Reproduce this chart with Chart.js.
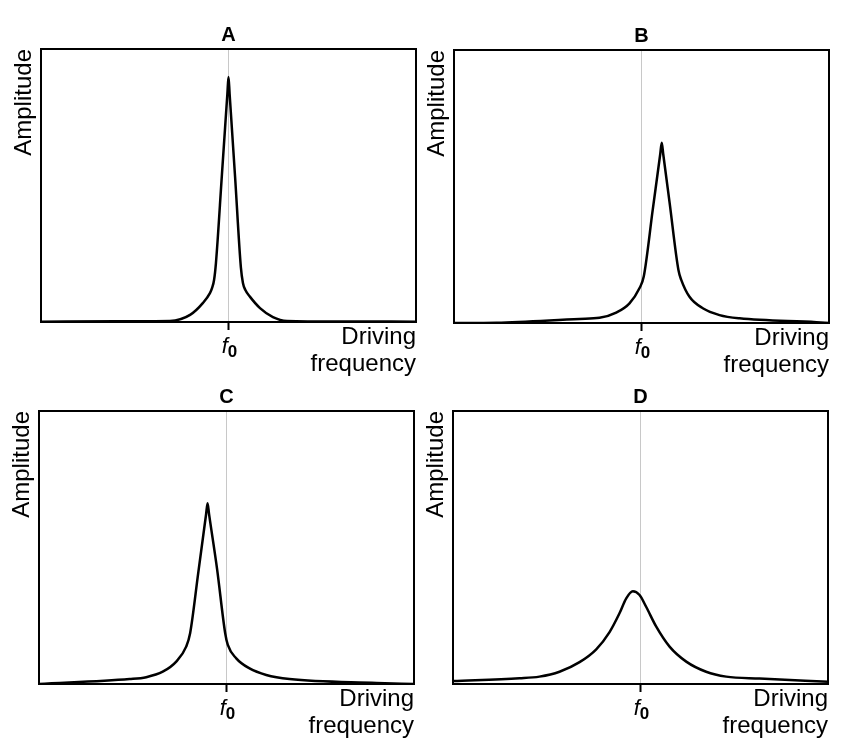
<!DOCTYPE html>
<html>
<head>
<meta charset="utf-8">
<title>Resonance curves</title>
<script src="https://cdn.jsdelivr.net/npm/chart.js@4.4.1/dist/chart.umd.min.js"></script>
<style>
  html, body { margin: 0; padding: 0; background: #fff; }
  body { width: 854px; height: 754px; position: relative; overflow: hidden; }
  canvas { position: absolute; }
</style>
</head>
<body>
<canvas id="chartA" width="427" height="378" style="left:0px;top:0px"></canvas>
<canvas id="chartB" width="427" height="378" style="left:413px;top:1px"></canvas>
<canvas id="chartC" width="427" height="378" style="left:-2px;top:362px"></canvas>
<canvas id="chartD" width="427" height="378" style="left:412px;top:362px"></canvas>
<script>
// driving frequency relative to f0 (f0 = 0), amplitude as fraction of the axis height
const F0 = 0;
const xTicks = [F0];
const panelTitles = ['A', 'B', 'C', 'D'];

const freqA = [-1, -0.6, -0.312, -0.205, -0.136, -0.099, -0.087, -0.077, -0.067, -0.035, -0.006, 0, 0.006, 0.035, 0.066, 0.077, 0.09, 0.115, 0.168, 0.237, 0.312, 0.6, 1];
const ampA  = [0.001, 0.003, 0.004, 0.026, 0.07, 0.106, 0.126, 0.154, 0.216, 0.541, 0.836, 0.897, 0.835, 0.533, 0.2, 0.143, 0.117, 0.092, 0.051, 0.018, 0.004, 0.002, 0.001];

const freqB = [-1, -0.773, -0.331, -0.224, -0.135, -0.064, -0.011, 0.012, 0.06, 0.1, 0.108, 0.116, 0.15, 0.197, 0.212, 0.256, 0.327, 0.416, 0.523, 0.933, 1];
const ampB  = [0, 0.001, 0.015, 0.019, 0.038, 0.072, 0.127, 0.17, 0.415, 0.619, 0.66, 0.618, 0.44, 0.194, 0.158, 0.096, 0.054, 0.029, 0.017, 0.003, 0];

const freqC = [-1, -0.517, -0.428, -0.34, -0.268, -0.215, -0.194, -0.15, -0.109, -0.101, -0.093, -0.05, -0.007, 0.007, 0.052, 0.123, 0.212, 0.336, 0.8, 1];
const ampC  = [0, 0.018, 0.025, 0.045, 0.082, 0.137, 0.186, 0.411, 0.621, 0.662, 0.622, 0.42, 0.186, 0.143, 0.094, 0.057, 0.033, 0.018, 0.004, 0];

const freqD = [-1, -0.645, -0.539, -0.432, -0.325, -0.236, -0.165, -0.112, -0.076, -0.041, -0.005, 0.03, 0.084, 0.155, 0.244, 0.35, 0.457, 0.635, 1];
const ampD  = [0.011, 0.021, 0.027, 0.045, 0.08, 0.127, 0.19, 0.259, 0.314, 0.34, 0.326, 0.283, 0.21, 0.137, 0.082, 0.045, 0.027, 0.02, 0.008];

const FONT = '"Liberation Sans", Arial, Helvetica, sans-serif';

// frame around the plot area + the f0 label (italic f, bold subscript 0)
const panelDecor = {
    id: 'panelDecor',
    afterDraw(chart) {
        const { ctx, chartArea: a, scales: { x } } = chart;
        ctx.save();
        ctx.strokeStyle = '#000';
        ctx.lineWidth = 2;
        ctx.strokeRect(a.left, a.top, a.right - a.left, a.bottom - a.top);

        const px = x.getPixelForValue(F0);
        const fFont = 'italic 22px ' + FONT;
        const subFont = 'bold 17px ' + FONT;
        ctx.fillStyle = '#000';
        ctx.textBaseline = 'alphabetic';
        ctx.textAlign = 'left';
        ctx.font = fFont;
        const fw = ctx.measureText('f').width;
        ctx.font = subFont;
        const zw = ctx.measureText('0').width;
        const start = px - (fw + zw) / 2 + 1;
        ctx.font = fFont;
        ctx.fillText('f', start, a.bottom + 31);
        ctx.font = subFont;
        ctx.fillText('0', start + fw, a.bottom + 35);
        ctx.restore();
    }
};

function makePanel(id, title, xs, ys) {
    const points = xs.map((v, i) => ({ x: v, y: ys[i] }));
    new Chart(document.getElementById(id), {
        type: 'line',
        data: {
            datasets: [{
                data: points,
                borderColor: '#000',
                borderWidth: 2.5,
                borderJoinStyle: 'round',
                borderCapStyle: 'round',
                pointRadius: 0,
                fill: false,
                cubicInterpolationMode: 'monotone'
            }]
        },
        options: {
            responsive: false,
            animation: false,
            events: [],
            layout: { padding: { left: 0, right: 11, top: 0, bottom: 0 } },
            plugins: {
                legend: { display: false },
                tooltip: { enabled: false },
                title: {
                    display: true,
                    text: title,
                    color: '#000',
                    fullSize: false,
                    font: { family: FONT, size: 20, weight: 'bold', lineHeight: 1.2 },
                    padding: { top: 23, bottom: 2 }
                }
            },
            scales: {
                x: {
                    type: 'linear',
                    min: -1,
                    max: 1,
                    afterBuildTicks: scale => {
                        scale.ticks = xTicks.map(v => ({ value: v }));
                    },
                    ticks: { display: false },
                    grid: {
                        color: '#c8c8c8',
                        lineWidth: 1,
                        drawTicks: true,
                        tickLength: 8,
                        tickColor: '#000',
                        tickWidth: 2
                    },
                    border: { display: false },
                    title: {
                        display: true,
                        text: ['Driving', 'frequency'],
                        align: 'end',
                        color: '#000',
                        font: { family: FONT, size: 24, lineHeight: 1.125 },
                        padding: { top: -6, bottom: 0 }
                    }
                },
                y: {
                    min: 0,
                    max: 1,
                    ticks: { display: false },
                    grid: { display: false, drawTicks: false },
                    border: { display: false },
                    title: {
                        display: true,
                        text: 'Amplitude',
                        align: 'end',
                        color: '#000',
                        font: { family: FONT, size: 24, lineHeight: 1.125 },
                        padding: { top: 11, bottom: 3 }
                    }
                }
            }
        },
        plugins: [panelDecor]
    });
}

makePanel('chartA', panelTitles[0], freqA, ampA);
makePanel('chartB', panelTitles[1], freqB, ampB);
makePanel('chartC', panelTitles[2], freqC, ampC);
makePanel('chartD', panelTitles[3], freqD, ampD);
</script>
</body>
</html>
